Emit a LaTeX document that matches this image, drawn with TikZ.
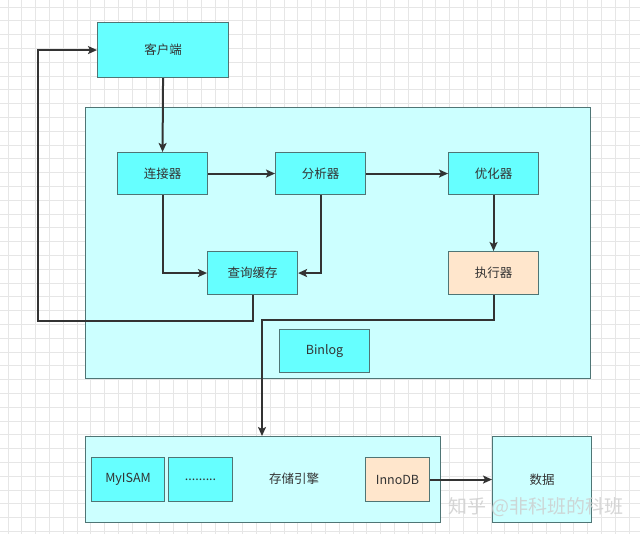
\documentclass[tikz,border=0pt]{standalone}
\usepackage{fontspec}
\setmainfont{Noto Sans CJK SC}
\usetikzlibrary{arrows.meta}
\definecolor{bright}{HTML}{66FFFF}
\definecolor{pale}{HTML}{CCFFFF}
\definecolor{peach}{HTML}{FFE6CC}
\definecolor{edge}{HTML}{4F7575}
\definecolor{ink}{HTML}{333333}
\definecolor{gridc}{HTML}{E6E6E6}
\tikzset{
  box/.style={draw=edge, line width=1.1pt, fill=bright, text=ink, font=\fontsize{12.5}{14}\selectfont, inner sep=0pt, anchor=north west},
  paleb/.style={box, fill=pale},
  peachb/.style={box, fill=peach},
  conn/.style={draw=ink, line width=2pt, -{Stealth[length=9pt,width=8pt,inset=2pt]}},
}
\begin{document}
\begin{tikzpicture}[x=1pt,y=-1pt]
\useasboundingbox (0,0) rectangle (640,534);
\fill[white] (0,0) rectangle (640,534);
\foreach \i in {0,...,46} {\draw[gridc, line width=0.7pt] (\i*13.8+8,0) -- (\i*13.8+8,534);}
\foreach \j in {0,...,39} {\draw[gridc, line width=0.7pt] (0,\j*13.8+7) -- (640,\j*13.8+7);}
% containers
\node[paleb, minimum width=505pt, minimum height=271pt] (server) at (85,107) {};
\node[paleb, minimum width=355pt, minimum height=86pt] (storage) at (85,436) {};
\node[anchor=center, text=ink, font=\fontsize{12.5}{14}\selectfont] (engine) at (294,479) {存储引擎};
% boxes
\node[box, minimum width=131pt, minimum height=55pt] (client) at (97,22) {};
\node[text=ink, font=\fontsize{12.5}{14}\selectfont] (clientlabel) at (client.center) {客户端};
\node[box, minimum width=90pt, minimum height=42pt] (conn) at (117,152) {连接器};
\node[box, minimum width=90pt, minimum height=42pt] (ana) at (275,152) {分析器};
\node[box, minimum width=90pt, minimum height=42pt] (opt) at (448,152) {优化器};
\node[box, minimum width=90pt, minimum height=43pt] (cache) at (207,251) {查询缓存};
\node[peachb, minimum width=90pt, minimum height=43pt] (exec) at (448,251) {执行器};
\node[box, minimum width=90pt, minimum height=43pt] (binlog) at (279,329) {Binlog};
\node[box, minimum width=73pt, minimum height=44pt] (myisam) at (91,457) {MyISAM};
\node[box, minimum width=64pt, minimum height=44pt] (dots) at (168,457) {.........};
\node[peachb, minimum width=64pt, minimum height=44pt] (inno) at (365,457) {InnoDB};
\node[paleb, minimum width=99pt, minimum height=86pt] (data) at (492,436) {数据};
% connectors
\draw[conn] (client.south) -- (conn.north);
\draw[conn] (conn.east) -- (ana.west);
\draw[conn] (ana.east) -- (opt.west);
\draw[conn] (opt.south) -- (exec.north);
\draw[conn] (conn.south) |- (cache.west);
\draw[conn] (ana.south) |- (cache.east);
\coordinate (loopL) at (38,321);
\draw[conn] (cache.south) |- (loopL) |- (client.west);
\coordinate (execturn) at (262,320);
\coordinate (storetop) at (262,436);
\draw[conn] (exec.south) |- (execturn) -- (storetop);
\draw[conn] (inno.east) -- (data.west);
% watermark
\node[text=gray!40, font=\fontsize{19}{21}\selectfont, opacity=0.8] (wm) at (536,507) {知乎 @非科班的科班};
\end{tikzpicture}
\end{document}
